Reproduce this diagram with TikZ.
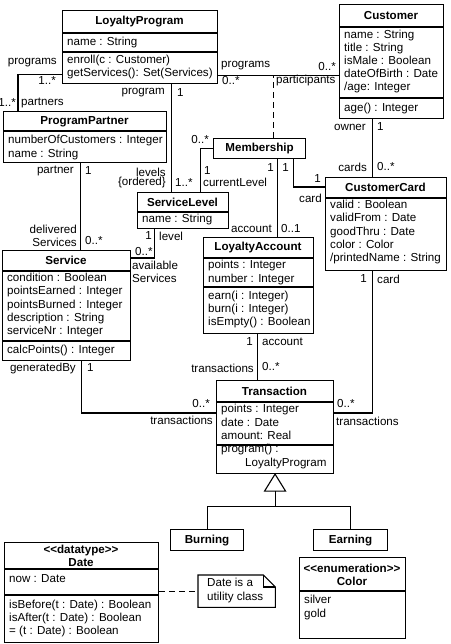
\documentclass[tikz,border=0pt]{standalone}
\usepackage{fontspec}
\setmainfont{Liberation Sans}
\newcommand\stereo[1]{<\kern0pt<#1>\kern0pt>}

\begin{document}
\fontsize{11.6}{13.2}\selectfont
\begin{tikzpicture}[x=1pt, y=-1pt,
    cls/.style={draw, line width=1.1pt, fill=white, anchor=north west,
                inner sep=0pt},
    sep/.style={line width=1.1pt},
    ttl/.style={font=\bfseries, inner sep=0pt, align=center},
    txt/.style={anchor=west, inner sep=0pt, align=left},
    lbl/.style={inner sep=0pt},
    assoc/.style={line width=1.1pt},
    dep/.style={line width=1.1pt, dash pattern=on 5.5pt off 4.5pt}
  ]
  \path[use as bounding box, fill=white] (0,0) rectangle (450,644);

  % classes
  \node[cls, minimum width=155, minimum height=73] (lp) at (62,10) {};
  \node[cls, minimum width=104, minimum height=114] (cu) at (339,4) {};
  \node[cls, minimum width=163, minimum height=51] (pp) at (3,111) {};
  \node[cls, minimum width=92, minimum height=20, font=\bfseries] (ms) at (213,138) {Membership};
  \node[cls, minimum width=91, minimum height=36] (sl) at (137,192) {};
  \node[cls, minimum width=121, minimum height=93] (cc) at (325,177) {};
  \node[cls, minimum width=110, minimum height=96] (la) at (203,237) {};
  \node[cls, minimum width=128, minimum height=110] (sv) at (2,250) {};
  \node[cls, minimum width=117, minimum height=93] (tr) at (216,380) {};
  \node[cls, minimum width=73, minimum height=21, font=\bfseries] (bu) at (170,529) {Burning};
  \node[cls, minimum width=74, minimum height=21, font=\bfseries] (ea) at (313,529) {Earning};
  \node[cls, minimum width=154, minimum height=100] (dt) at (4,542) {};
  \node[cls, minimum width=106, minimum height=81] (co) at (299,557) {};

  % compartments
  \draw[sep] ([yshift=-23pt]lp.north west) -- ([yshift=-23pt]lp.north east);
  \draw[sep] ([yshift=-42pt]lp.north west) -- ([yshift=-42pt]lp.north east);
  \draw[sep] ([yshift=-23pt]cu.north west) -- ([yshift=-23pt]cu.north east);
  \draw[sep] ([yshift=-94pt]cu.north west) -- ([yshift=-94pt]cu.north east);
  \draw[sep] ([yshift=-20pt]pp.north west) -- ([yshift=-20pt]pp.north east);
  \draw[sep] ([yshift=-20pt]sl.north west) -- ([yshift=-20pt]sl.north east);
  \draw[sep] ([yshift=-21pt]cc.north west) -- ([yshift=-21pt]cc.north east);
  \draw[sep] ([yshift=-21pt]la.north west) -- ([yshift=-21pt]la.north east);
  \draw[sep] ([yshift=-50pt]la.north west) -- ([yshift=-50pt]la.north east);
  \draw[sep] ([yshift=-21pt]sv.north west) -- ([yshift=-21pt]sv.north east);
  \draw[sep] ([yshift=-91pt]sv.north west) -- ([yshift=-91pt]sv.north east);
  \draw[sep] ([yshift=-22pt]tr.north west) -- ([yshift=-22pt]tr.north east);
  \draw[sep] ([yshift=-65pt]tr.north west) -- ([yshift=-65pt]tr.north east);
  \draw[sep] ([yshift=-27pt]dt.north west) -- ([yshift=-27pt]dt.north east);
  \draw[sep] ([yshift=-53pt]dt.north west) -- ([yshift=-53pt]dt.north east);
  \draw[sep] ([yshift=-34pt]co.north west) -- ([yshift=-34pt]co.north east);

  % class texts
  \node[ttl] (lp-t) at (139.5,21.5) {LoyaltyProgram};
  \node[txt] (lp-a) at (67,43) {name : String};
  \node[txt] (lp-o) at (67,67) {enroll(c : Customer)\\getServices(): Set(Services)};
  \node[ttl] (cu-t) at (391,15.5) {Customer};
  \node[txt] (cu-a) at (344,61.5) {name : String\\title : String\\isMale : Boolean\\dateOfBirth : Date\\/age: Integer};
  \node[txt] (cu-o) at (344,108.5) {age() : Integer};
  \node[ttl] (pp-t) at (84.5,121.5) {ProgramPartner};
  \node[txt] (pp-a) at (8,147.5) {numberOfCustomers : Integer\\name : String};
  \node[ttl] (sl-t) at (182.5,202) {ServiceLevel};
  \node[txt] (sl-a) at (142,220) {name : String};
  \node[ttl] (la-t) at (258,247.5) {LoyaltyAccount};
  \node[txt] (la-a) at (208,272.5) {points : Integer\\number : Integer};
  \node[txt] (la-o) at (208,309.5) {earn(i : Integer)\\burn(i : Integer)\\isEmpty() : Boolean};
  \node[ttl] (cc-t) at (385.5,187.5) {CustomerCard};
  \node[txt] (cc-a) at (330,232) {valid : Boolean\\validFrom : Date\\goodThru : Date\\color : Color\\/printedName : String};
  \node[ttl] (sv-t) at (66,260.5) {Service};
  \node[txt] (sv-a) at (7,305) {condition : Boolean\\pointsEarned : Integer\\pointsBurned : Integer\\description : String\\serviceNr : Integer};
  \node[txt] (sv-o) at (7,350.5) {calcPoints() : Integer};
  \node[ttl] (tr-t) at (274.5,391) {Transaction};
  \node[txt] (tr-a) at (221,422) {points : Integer\\date : Date\\amount: Real};
  \node[txt] (tr-o) at (221,456.5) {program() :\\\hspace*{24pt}LoyaltyProgram};
  \node[ttl] (dt-t) at (81,556) {\stereo{datatype}\\Date};
  \node[txt] (dt-a) at (9,579) {now : Date};
  \node[txt] (dt-o) at (9,618.5) {isBefore(t : Date) : Boolean\\isAfter(t : Date) : Boolean\\= (t : Date) : Boolean};
  \node[ttl] (co-t) at (352,575) {\stereo{enumeration}\\Color};
  \node[txt] (co-a) at (304,607.5) {silver\\gold};

  % note
  \node[minimum width=77, minimum height=32, anchor=north west, inner sep=0pt] (nt) at (198,575) {};
  \draw[assoc] (nt.north west) -- ([xshift=-12pt]nt.north east) -- ([yshift=-12pt]nt.north east)
    -- (nt.south east) -- (nt.south west) -- cycle;
  \draw[assoc] ([xshift=-12pt]nt.north east) -- ++(0,12) -- ([yshift=-12pt]nt.north east);
  \node[txt] (nt-t) at (207,590.5) {Date is a\\utility class};
  \draw[dep] (dt.east |- nt.west) -- (nt.west);

  % associations
  \coordinate (lpcu) at ([yshift=9pt]lp.south east);
  \draw[assoc] (lpcu) -- (lpcu -| cu.west);
  \draw[dep] ([xshift=14pt]ms.north) -- ([xshift=14pt]ms.north |- lpcu);
  \draw[assoc] ([yshift=10pt]lp.south west) -| ([xshift=15pt]pp.north west);
  \draw[assoc] ([xshift=-11.5pt]sl.north) -- ([xshift=-11.5pt]sl.north |- lp.south);
  \draw[assoc] ([xshift=-4.5pt]pp.south) -- ([xshift=-4.5pt]pp.south |- sv.north);
  \draw[assoc] ([xshift=-28.5pt]sl.south) |- ([yshift=-8pt]sv.north east);
  \draw[assoc] ([xshift=17.5pt]sl.north) |- (ms.west);
  \draw[assoc] ([xshift=18pt]ms.south) -- ([xshift=18pt]ms.south |- la.north);
  \draw[assoc] ([xshift=34pt]ms.south) |- ([yshift=-10pt]cc.north west);
  \draw[assoc] ([xshift=-19pt]cu.south) -- ([xshift=-19pt]cu.south |- cc.north);
  \draw[assoc] ([xshift=-13.5pt]cc.south) |- ([yshift=-33pt]tr.north east);
  \draw[assoc] ([xshift=-1pt]la.south) -- ([xshift=-1pt]la.south |- tr.north);
  \draw[assoc] ([xshift=15pt]sv.south) |- ([yshift=-33pt]tr.north west);

  % generalization
  \draw[assoc, fill=white] (tr.south) -- ++(-10.5,17) -- ++(21,0) -- cycle;
  \coordinate (gen) at ([yshift=-17pt]tr.south);
  \draw[assoc] (gen) -- ++(0,15) coordinate (genb);
  \draw[assoc] (bu.north) |- (genb) -| (ea.north);

  % role names and multiplicities
  \node[lbl, anchor=east] (lp-pp-1) at (57,63) {programs};
  \node[lbl, anchor=east] (lp-pp-2) at (56,81) {1..*};
  \node[lbl, anchor=east] (lp-pp-3) at (16,103) {1..*};
  \node[lbl, anchor=west] (lp-pp-4) at (21,103) {partners};
  \node[lbl, anchor=east] (lp-sl-1) at (165,93) {program};
  \node[lbl, anchor=west] (lp-sl-2) at (177,93) {1};
  \node[lbl, anchor=east] (lp-sl-3) at (166,172) {levels};
  \node[lbl, anchor=east] (lp-sl-4) at (166,183) {\{ordered\}};
  \node[lbl, anchor=west] (lp-sl-5) at (175,183) {1..*};
  \node[lbl, anchor=west] (lp-cu-1) at (221,66) {programs};
  \node[lbl, anchor=west] (lp-cu-2) at (222,81) {0..*};
  \node[lbl, anchor=east] (lp-cu-3) at (336,67) {0..*};
  \node[lbl, anchor=west] (lp-cu-4) at (276,81) {participants};
  \node[lbl, anchor=east] (ms-sl-1) at (209,140) {0..*};
  \node[lbl, anchor=west] (ms-sl-2) at (204,171) {1};
  \node[lbl, anchor=west] (ms-sl-3) at (203,182) {currentLevel};
  \node[lbl, anchor=east] (ms-la-1) at (274,168) {1};
  \node[lbl, anchor=east] (ms-la-2) at (272,229) {account};
  \node[lbl, anchor=west] (ms-la-3) at (281,229) {0..1};
  \node[lbl, anchor=east] (ms-cc-1) at (289,168) {1};
  \node[lbl, anchor=east] (ms-cc-2) at (321,179) {1};
  \node[lbl, anchor=east] (ms-cc-3) at (322,198) {card};
  \node[lbl, anchor=east] (pp-sv-1) at (74,171) {partner};
  \node[lbl, anchor=west] (pp-sv-2) at (85,171) {1};
  \node[lbl, anchor=east, align=right] (pp-sv-3) at (77,235.5) {delivered\\Services};
  \node[lbl, anchor=west] (pp-sv-4) at (85,241) {0..*};
  \node[lbl, anchor=east] (sl-sv-1) at (152,236) {1};
  \node[lbl, anchor=west] (sl-sv-2) at (159,236) {level};
  \node[lbl, anchor=west] (sl-sv-3) at (135,252) {0..*};
  \node[lbl, anchor=west, align=left] (sl-sv-4) at (132,272) {available\\Services};
  \node[lbl, anchor=east] (cu-cc-1) at (366,127) {owner};
  \node[lbl, anchor=west] (cu-cc-2) at (377,127) {1};
  \node[lbl, anchor=east] (cu-cc-3) at (367,167) {cards};
  \node[lbl, anchor=west] (cu-cc-4) at (377,167) {0..*};
  \node[lbl, anchor=east] (cc-tr-1) at (367,279) {1};
  \node[lbl, anchor=west] (cc-tr-2) at (377,279) {card};
  \node[lbl, anchor=west] (cc-tr-3) at (337,404) {0..*};
  \node[lbl, anchor=west] (cc-tr-4) at (336,421) {transactions};
  \node[lbl, anchor=east] (la-tr-1) at (253,342) {1};
  \node[lbl, anchor=west] (la-tr-2) at (262,342) {account};
  \node[lbl, anchor=east] (la-tr-3) at (254,368) {transactions};
  \node[lbl, anchor=west] (la-tr-4) at (262,367) {0..*};
  \node[lbl, anchor=east] (sv-tr-1) at (76,368) {generatedBy};
  \node[lbl, anchor=west] (sv-tr-2) at (87,368) {1};
  \node[lbl, anchor=east] (sv-tr-3) at (210,404) {0..*};
  \node[lbl, anchor=east] (sv-tr-4) at (213,420) {transactions};
\end{tikzpicture}
\end{document}
